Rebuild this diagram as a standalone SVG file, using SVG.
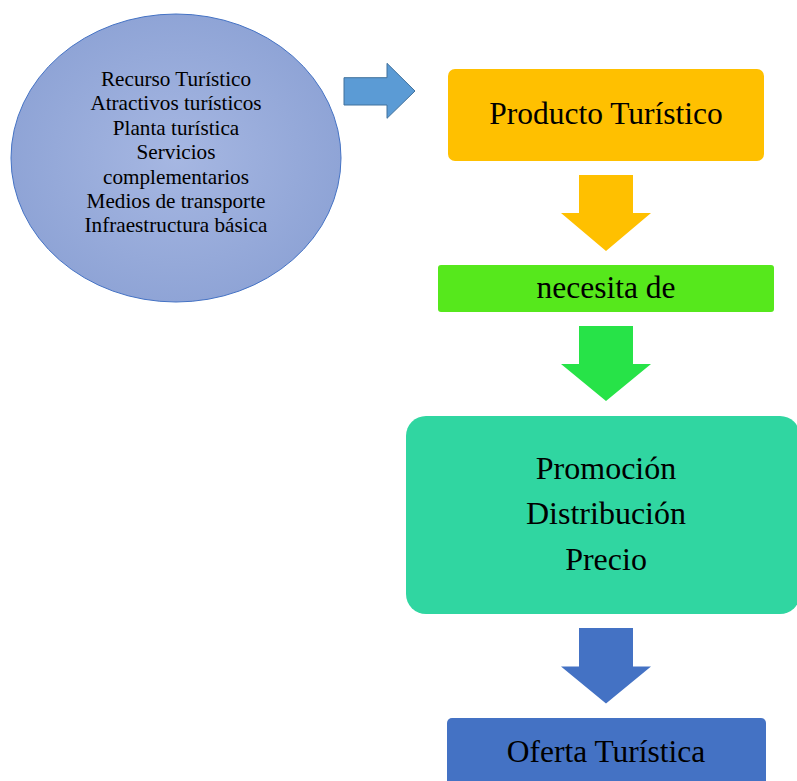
<svg xmlns="http://www.w3.org/2000/svg" width="797" height="781" viewBox="0 0 797 781">
<defs>
<radialGradient id="eg" cx="0.5" cy="0.5" r="0.5">
<stop offset="0" stop-color="#a6b7e2"/>
<stop offset="1" stop-color="#8fa4d6"/>
</radialGradient>
</defs>
<style>
text{font-family:"Liberation Serif","Times New Roman",serif;fill:#000;text-anchor:middle}
.s{font-size:21.2px}
.l{font-size:31.5px}
.xl{font-size:32px}
</style>
<rect width="797" height="781" fill="#fff"/>
<g id="recurso">
<ellipse cx="176" cy="158" rx="165" ry="144" fill="url(#eg)" stroke="#4472c4" stroke-width="1"/>
<text class="s" x="176" y="86">Recurso Turístico</text>
<text class="s" x="176" y="110.4">Atractivos turísticos</text>
<text class="s" x="176" y="134.8">Planta turística</text>
<text class="s" x="176" y="159.2">Servicios</text>
<text class="s" x="176" y="183.6">complementarios</text>
<text class="s" x="176" y="208">Medios de transporte</text>
<text class="s" x="176" y="232.4">Infraestructura básica</text>
</g>
<g id="producto">
<rect x="448" y="69" width="316" height="92" rx="7" fill="#ffc000"/>
<text class="l" x="606" y="124">Producto Turístico</text>
</g>
<g id="necesita">
<rect x="438" y="265" width="336" height="47" rx="3" fill="#56e81c"/>
<text class="l" x="606" y="297.5">necesita de</text>
</g>
<g id="mezcla">
<rect x="406" y="416" width="394" height="198" rx="20" fill="#30d6a1"/>
<text class="xl" x="606" y="478.5">Promoción</text>
<text class="xl" x="606" y="524">Distribución</text>
<text class="xl" x="606" y="570">Precio</text>
</g>
<g id="oferta">
<rect x="447" y="718" width="319" height="80" rx="5" fill="#4472c4"/>
<text class="l" x="606" y="762">Oferta Turística</text>
</g>
<g id="connectors">
<polygon points="344,77.7 387,77.7 387,63.3 415,91 387,118.3 387,105 344,105" fill="#5b9bd5" stroke="#41719c" stroke-width="1"/>
<polygon points="579,175 633,175 633,213 651,213 606,251 561,213 579,213" fill="#ffc000"/>
<polygon points="579,326 633,326 633,364 651,364 606,401 561,364 579,364" fill="#27e348"/>
<polygon points="579,628 633,628 633,666.5 651,666.5 606,703.5 561,666.5 579,666.5" fill="#4472c4"/>
</g>
</svg>
